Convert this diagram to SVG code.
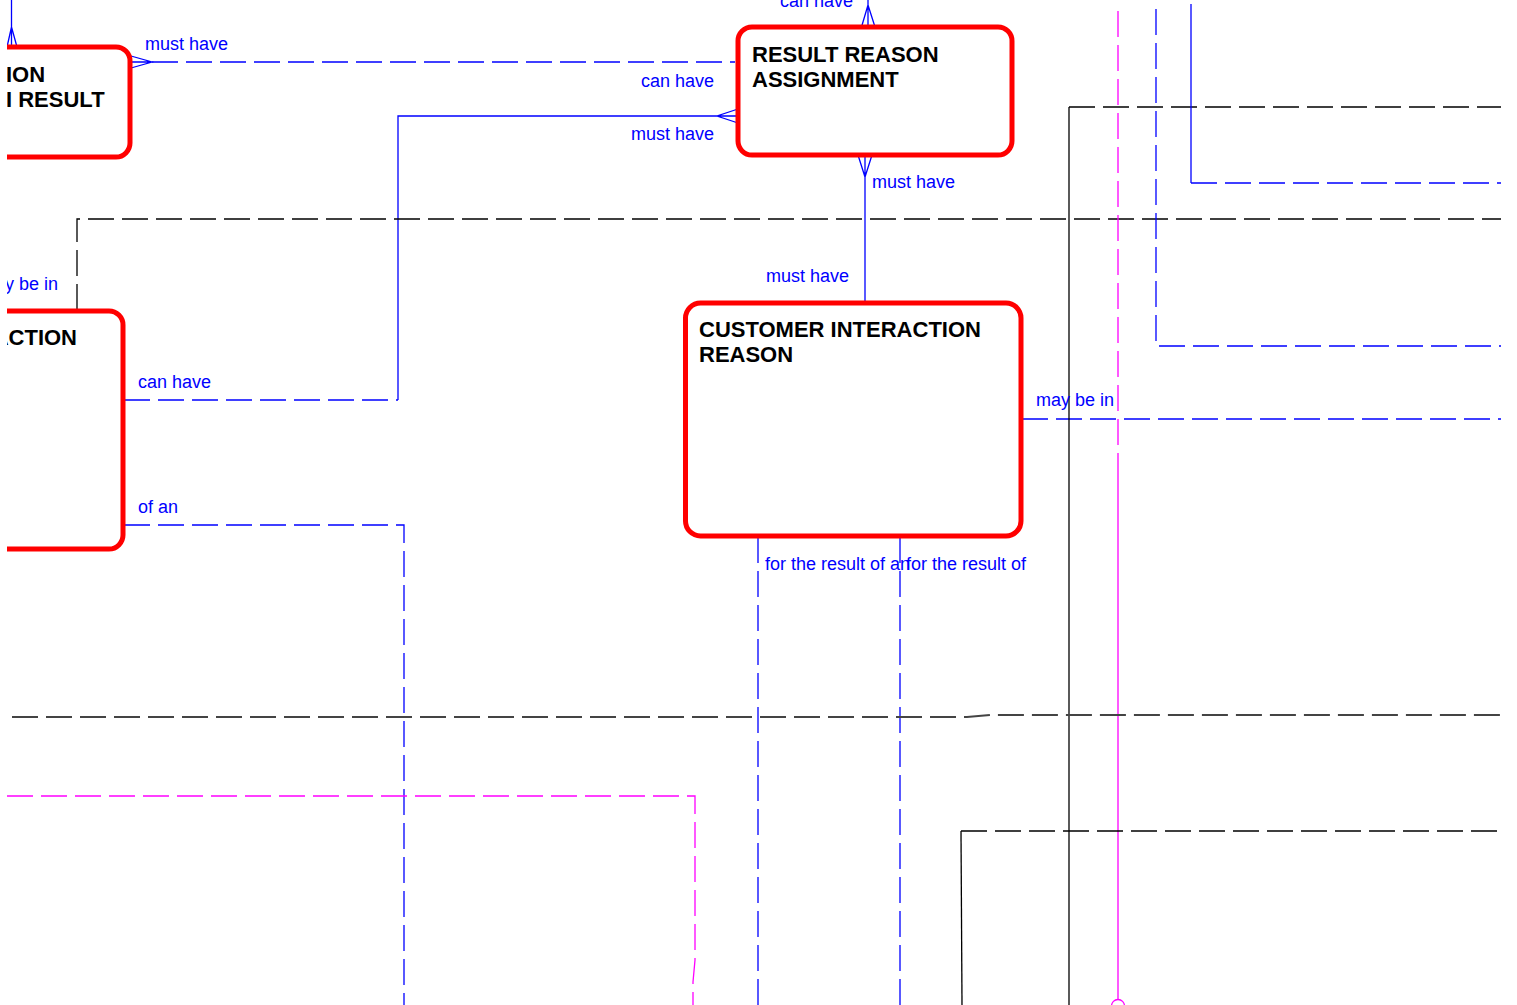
<svg xmlns="http://www.w3.org/2000/svg" width="1517" height="1005" viewBox="0 0 1517 1005">
<style>
.node{fill:#fff;stroke:#ff0000;stroke-width:5}
.title{font-family:"Liberation Sans",Arial,sans-serif;font-weight:bold;font-size:22px;fill:#000}
.lbl{font-family:"Liberation Sans",Arial,sans-serif;font-size:18px;fill:#0000ff}
.b{fill:none;stroke:#0000ff;stroke-width:1.3}
.bd{fill:none;stroke:#0000ff;stroke-width:1.3;stroke-dasharray:26 8}
.k{fill:none;stroke:#000;stroke-width:1.3}
.kd{fill:none;stroke:#000;stroke-width:1.3;stroke-dasharray:26 8}
.kd2{fill:none;stroke:#444;stroke-width:2;stroke-dasharray:26 8}
.m{fill:none;stroke:#ff00ff;stroke-width:1.3}
.md{fill:none;stroke:#ff00ff;stroke-width:1.3;stroke-dasharray:26 8}
</style>
<defs>
<clipPath id="clip"><rect x="7" y="0" width="1494" height="1005"/></clipPath>
</defs>
<rect x="0" y="0" width="1517" height="1005" fill="#fff"/>
<g clip-path="url(#clip)">
<g id="connectors">
<!-- node1 top crow -->
<path class="b" d="M11.5,0 V47 M7,47 L11.5,27 L17,47"/>
<!-- node1 -> result reason assignment -->
<path class="b" d="M131,56 L152,62 L131,68 M131,62 H152"/>
<path class="bd" d="M152,62 H735"/>
<!-- RRA -> ACTION node -->
<path class="b" d="M738,109 L717,116 L738,123 M738,116 H717 H398 V400"/>
<path class="bd" d="M124,400 H398"/>
<!-- RRA top crow -->
<path class="b" d="M861.5,27 L868,5 L875,27 M868,27 V0"/>
<!-- RRA -> CIR -->
<path class="b" d="M858,155 L865,177 L872,155 M865,155 V303"/>
<!-- CIR right -->
<path class="bd" d="M1022,419 H1501"/>
<!-- CIR bottom -->
<path class="bd" d="M758,537 V1005"/>
<path class="bd" d="M900,537 V1005"/>
<!-- ACTION of an -->
<path class="bd" d="M124,525 H404 V1005"/>
<!-- black dashed 219 -->
<path class="kd" d="M77,310 V219 H1501"/>
<!-- black 107 -->
<path class="kd" d="M1069,107 H1501"/>
<path class="k" d="M1069,107 V1005"/>
<!-- blue 1191 -->
<path class="b" d="M1191,4 V183"/>
<path class="bd" d="M1191,183 H1501"/>
<!-- blue dashed 1156 -->
<path class="bd" d="M1156,9 V346 H1501"/>
<!-- magenta 1118 -->
<path class="md" d="M1118,11 V455"/>
<path class="m" d="M1118,455 V999.5"/>
<circle class="m" cx="1118" cy="1006" r="6.5"/>
<!-- black dashed 717 -->
<path class="kd2" d="M12,717 H967 L990,715 H1501"/>
<!-- magenta dashed 796 -->
<path class="md" d="M7,796 H695 V960 L693,982 V1005"/>
<!-- black 831 -->
<path class="kd" d="M961,831 H1501"/>
<path class="k" d="M961,831 L962,1005"/>
</g>
<g id="labels">
<text class="lbl" x="145" y="50">must have</text>
<text class="lbl" x="714" y="87" text-anchor="end">can have</text>
<text class="lbl" x="714" y="140" text-anchor="end">must have</text>
<text class="lbl" x="780" y="7">can have</text>
<text class="lbl" x="872" y="188">must have</text>
<text class="lbl" x="849" y="282" text-anchor="end">must have</text>
<text class="lbl" x="138" y="388">can have</text>
<text class="lbl" x="138" y="513">of an</text>
<text class="lbl" x="58" y="290" text-anchor="end">may be in</text>
<text class="lbl" x="1036" y="406">may be in</text>
<text class="lbl" x="765" y="570">for the result of an</text>
<text class="lbl" x="906" y="570">for the result of</text>
</g>
<g id="node-result">
<rect class="node" x="-200" y="47" width="330" height="110" rx="14"/>
<text class="title" x="6" y="82">ION</text>
<text class="title" x="6" y="107">I RESULT</text>
</g>
<g id="node-action">
<rect class="node" x="-200" y="311" width="323" height="238" rx="14"/>
<text class="title" x="77" y="345" text-anchor="end">ACTION</text>
</g>
<g id="node-rra">
<rect class="node" x="738" y="27" width="274" height="128" rx="14"/>
<text class="title" x="752" y="62">RESULT REASON</text>
<text class="title" x="752" y="87">ASSIGNMENT</text>
</g>
<g id="node-cir">
<rect class="node" x="685.5" y="303" width="335.5" height="233" rx="15"/>
<text class="title" x="699" y="337">CUSTOMER INTERACTION</text>
<text class="title" x="699" y="362">REASON</text>
</g>
</g>
</svg>
